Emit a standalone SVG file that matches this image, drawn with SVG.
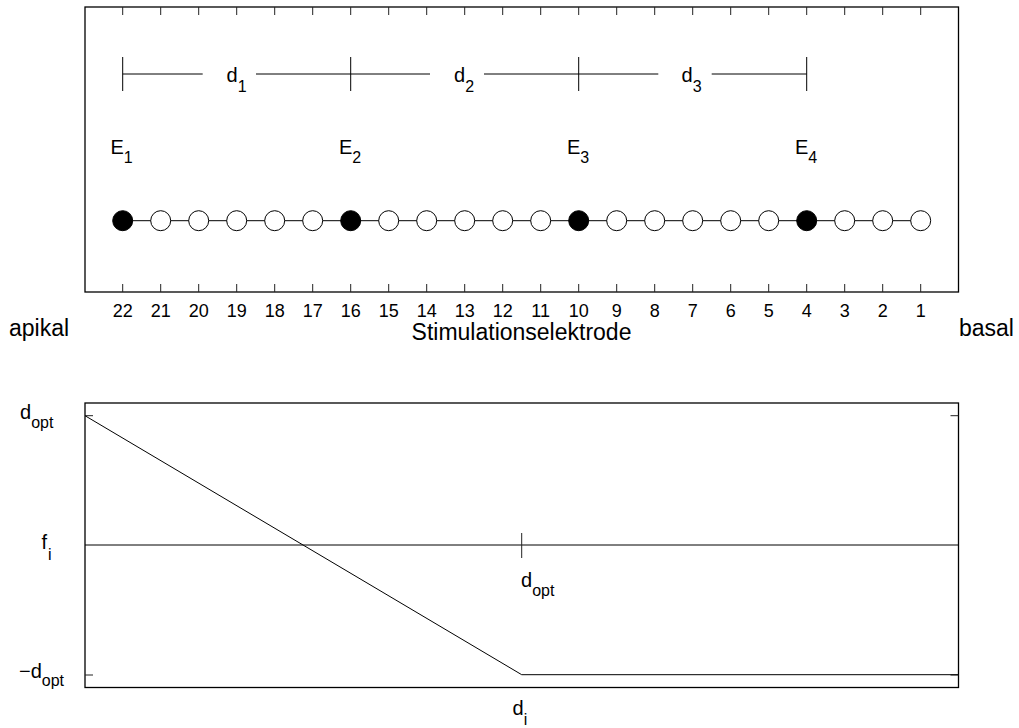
<svg xmlns="http://www.w3.org/2000/svg" width="1019" height="728" viewBox="0 0 1019 728">
<defs>
<style>
.frame{fill:none;stroke:#000;stroke-width:1.3}
.ln{fill:none;stroke:#000;stroke-width:1}
.tk{fill:none;stroke:#222;stroke-width:1}
.on{fill:#000;stroke:#000;stroke-width:1}
.off{fill:#fff;stroke:#000;stroke-width:1}
text{font-family:"Liberation Sans",Arial,Helvetica,sans-serif;fill:#000}
.lbl{font-size:20px}
.sub{font-size:16px}
.num{font-size:18px;text-anchor:middle}
.big{font-size:23px}
</style>
</defs>
<rect width="1019" height="728" fill="#fff"/>

<!-- Top panel -->
<g id="top-frame">
<rect class="frame" x="85" y="7" width="873.5" height="285"/>
<path class="tk" d="M122.7,7v8M160.7,7v8M198.7,7v8M236.7,7v8M274.7,7v8M312.7,7v8M350.7,7v8M388.7,7v8M426.7,7v8M464.7,7v8M502.7,7v8M540.7,7v8M578.7,7v8M616.7,7v8M654.7,7v8M692.7,7v8M730.7,7v8M768.7,7v8M806.7,7v8M844.7,7v8M882.7,7v8M920.7,7v8"/>
<path class="tk" d="M122.7,292v-8M160.7,292v-8M198.7,292v-8M236.7,292v-8M274.7,292v-8M312.7,292v-8M350.7,292v-8M388.7,292v-8M426.7,292v-8M464.7,292v-8M502.7,292v-8M540.7,292v-8M578.7,292v-8M616.7,292v-8M654.7,292v-8M692.7,292v-8M730.7,292v-8M768.7,292v-8M806.7,292v-8M844.7,292v-8M882.7,292v-8M920.7,292v-8"/>
</g>

<g id="connectors">
<path class="ln" d="M122.7,220.7H920.7"/>
<path class="ln" d="M122.7,74H202.7M256,74H430M484,74H658.3M711.7,74H806.7"/>
<path class="ln" d="M122.7,57V91M350.7,57V91M578.7,57V91M806.7,57V91"/>
</g>

<g id="electrodes">
<circle id="e22" class="on" cx="122.7" cy="220.7" r="10"/>
<circle id="e21" class="off" cx="160.7" cy="220.7" r="10"/>
<circle id="e20" class="off" cx="198.7" cy="220.7" r="10"/>
<circle id="e19" class="off" cx="236.7" cy="220.7" r="10"/>
<circle id="e18" class="off" cx="274.7" cy="220.7" r="10"/>
<circle id="e17" class="off" cx="312.7" cy="220.7" r="10"/>
<circle id="e16" class="on" cx="350.7" cy="220.7" r="10"/>
<circle id="e15" class="off" cx="388.7" cy="220.7" r="10"/>
<circle id="e14" class="off" cx="426.7" cy="220.7" r="10"/>
<circle id="e13" class="off" cx="464.7" cy="220.7" r="10"/>
<circle id="e12" class="off" cx="502.7" cy="220.7" r="10"/>
<circle id="e11" class="off" cx="540.7" cy="220.7" r="10"/>
<circle id="e10" class="on" cx="578.7" cy="220.7" r="10"/>
<circle id="e9" class="off" cx="616.7" cy="220.7" r="10"/>
<circle id="e8" class="off" cx="654.7" cy="220.7" r="10"/>
<circle id="e7" class="off" cx="692.7" cy="220.7" r="10"/>
<circle id="e6" class="off" cx="730.7" cy="220.7" r="10"/>
<circle id="e5" class="off" cx="768.7" cy="220.7" r="10"/>
<circle id="e4" class="on" cx="806.7" cy="220.7" r="10"/>
<circle id="e3" class="off" cx="844.7" cy="220.7" r="10"/>
<circle id="e2" class="off" cx="882.7" cy="220.7" r="10"/>
<circle id="e1" class="off" cx="920.7" cy="220.7" r="10"/>
</g>

<g id="top-labels">
<text class="lbl" x="226.5" y="81.5">d<tspan class="sub" dy="10">1</tspan></text>
<text class="lbl" x="454" y="81.5">d<tspan class="sub" dy="10">2</tspan></text>
<text class="lbl" x="681.5" y="81.5">d<tspan class="sub" dy="10">3</tspan></text>
<text class="lbl" x="110.5" y="154">E<tspan class="sub" dy="9">1</tspan></text>
<text class="lbl" x="339" y="154">E<tspan class="sub" dy="9">2</tspan></text>
<text class="lbl" x="567" y="154">E<tspan class="sub" dy="9">3</tspan></text>
<text class="lbl" x="795" y="154">E<tspan class="sub" dy="9">4</tspan></text>
</g>

<g id="axis-numbers">
<text class="num" x="122.7" y="316.5">22</text>
<text class="num" x="160.7" y="316.5">21</text>
<text class="num" x="198.7" y="316.5">20</text>
<text class="num" x="236.7" y="316.5">19</text>
<text class="num" x="274.7" y="316.5">18</text>
<text class="num" x="312.7" y="316.5">17</text>
<text class="num" x="350.7" y="316.5">16</text>
<text class="num" x="388.7" y="316.5">15</text>
<text class="num" x="426.7" y="316.5">14</text>
<text class="num" x="464.7" y="316.5">13</text>
<text class="num" x="502.7" y="316.5">12</text>
<text class="num" x="540.7" y="316.5">11</text>
<text class="num" x="578.7" y="316.5">10</text>
<text class="num" x="616.7" y="316.5">9</text>
<text class="num" x="654.7" y="316.5">8</text>
<text class="num" x="692.7" y="316.5">7</text>
<text class="num" x="730.7" y="316.5">6</text>
<text class="num" x="768.7" y="316.5">5</text>
<text class="num" x="806.7" y="316.5">4</text>
<text class="num" x="844.7" y="316.5">3</text>
<text class="num" x="882.7" y="316.5">2</text>
<text class="num" x="920.7" y="316.5">1</text>
<text class="big" x="521.5" y="340" text-anchor="middle">Stimulationselektrode</text>
<text class="big" x="9" y="336">apikal</text>
<text class="big" x="959" y="336">basal</text>
</g>

<!-- Bottom panel -->
<g id="bottom-frame">
<rect class="frame" x="85" y="403" width="873.5" height="284.5"/>
<path class="tk" d="M85,415.7h8M85,675h8M958.5,415.7h-8M958.5,675h-8"/>
</g>

<g id="plot-lines">
<path class="ln" d="M85,545H958.5"/>
<path class="ln" d="M85,415.7L521.7,674.7H958.5"/>
<path class="tk" d="M521.7,533V558"/>
</g>

<g id="bottom-labels">
<text class="lbl" x="20" y="419">d<tspan class="sub" dy="9">opt</tspan></text>
<text class="lbl" x="41.5" y="549">f<tspan class="sub" dy="11" dx="1">i</tspan></text>
<text class="lbl" x="19" y="678">−d<tspan class="sub" dy="8">opt</tspan></text>
<text class="lbl" x="521" y="587">d<tspan class="sub" dy="9">opt</tspan></text>
<text class="lbl" x="512.5" y="715">d<tspan class="sub" dy="10">i</tspan></text>
</g>
</svg>
